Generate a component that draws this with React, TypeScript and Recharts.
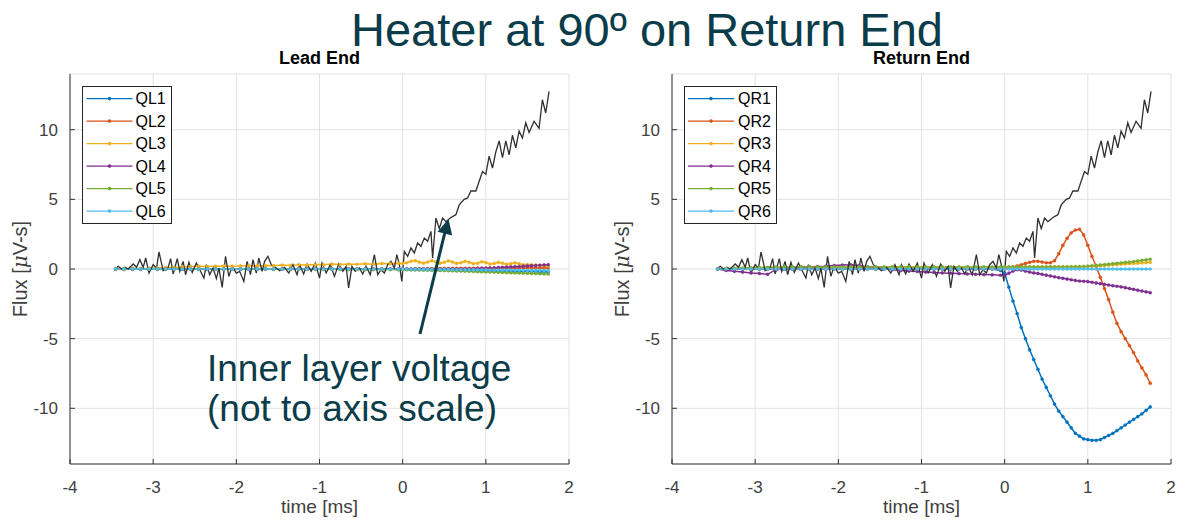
import { LineChart, Line, XAxis, YAxis, CartesianGrid, Legend } from 'recharts';

// shared time base of the coil signals [ms]
const timeQ = [
  -3.45, -3.35, -3.25, -3.15, -3.05, -2.95, -2.85, -2.75, -2.65, -2.55, -2.45, -2.35,
  -2.25, -2.15, -2.05, -1.95, -1.85, -1.75, -1.65, -1.55, -1.45, -1.35, -1.25, -1.15,
  -1.05, -0.95, -0.85, -0.75, -0.65, -0.55, -0.45, -0.35, -0.25, -0.15, -0.05,
  0, 0.05, 0.1, 0.15, 0.2, 0.25, 0.3, 0.35, 0.4, 0.45, 0.5, 0.55, 0.6, 0.65, 0.7, 0.75,
  0.8, 0.85, 0.9, 0.95, 1, 1.05, 1.1, 1.15, 1.2, 1.25, 1.3, 1.35, 1.4, 1.45, 1.5, 1.55,
  1.6, 1.65, 1.7, 1.75,
];

// Lead End
const ql1 = [
  0, 0, 0, 0, 0, 0, 0, 0, 0, 0, 0, 0, 0, 0, 0, 0, 0, 0, 0, 0, 0, 0, 0, 0, 0, 0, 0, 0, 0, 0, 0, 0, 0, 0, -0.02,
  -0.02, -0.03, -0.03, -0.04, -0.04, -0.05, -0.05, -0.06, -0.06, -0.07, -0.07, -0.08, -0.08, -0.09, -0.09, -0.1, -0.1, -0.11,
  -0.11, -0.12, -0.12, -0.13, -0.13, -0.14, -0.14, -0.15, -0.15, -0.16, -0.16, -0.17, -0.17, -0.18, -0.18, -0.19, -0.19, -0.2,
];
const ql2 = [
  0, 0, 0, 0, 0, 0, 0, 0, 0, 0, 0, 0, 0, 0, 0, 0, 0, 0, 0, 0, 0, 0, 0, 0, 0, 0, 0, 0, 0, 0, 0, 0, 0, 0, 0,
  0, 0.01, 0.01, 0.02, 0.02, 0.02, 0.03, 0.03, 0.03, 0.04, 0.04, 0.04, 0.04, 0.05, 0.05, 0.05, 0.05, 0.05,
  0.06, 0.06, 0.06, 0.06, 0.06, 0.07, 0.07, 0.07, 0.07, 0.07, 0.08, 0.08, 0.08, 0.08, 0.08, 0.08, 0.08, 0.08,
];
const ql3 = [
  0, -0.05, 0.05, 0.02, 0.05, 0.08, 0.1, 0.1, 0.15, 0.18, 0.2, 0.18, 0.2, 0.22, 0.2, 0.22, 0.25, 0.22,
  0.25, 0.24, 0.28, 0.26, 0.3, 0.28, 0.32, 0.3, 0.35, 0.32, 0.36, 0.34, 0.38, 0.35, 0.4, 0.38, 0.42,
  0.4, 0.45, 0.55, 0.6, 0.5, 0.42, 0.5, 0.6, 0.52, 0.42, 0.48, 0.58, 0.5, 0.4, 0.45, 0.55, 0.48, 0.38,
  0.42, 0.52, 0.46, 0.36, 0.4, 0.48, 0.42, 0.34, 0.38, 0.44, 0.38, 0.3, 0.32, 0.3, 0.28, 0.26, 0.24, 0.22,
];
const ql4 = [
  0, 0, 0, 0, 0, 0, 0, 0, 0, 0, 0, 0, 0, 0, 0, 0, 0, 0, 0, 0, 0, 0, 0, 0, 0, 0, 0, 0, 0, 0, 0, 0, 0, 0, 0,
  0, 0, 0, 0, 0, 0, 0, 0, 0, 0, 0, 0, 0, 0, 0, 0, 0, 0.01,
  0.02, 0.04, 0.05, 0.07, 0.08, 0.1, 0.12, 0.13, 0.15, 0.17, 0.18, 0.2, 0.22, 0.24, 0.25, 0.27, 0.29, 0.31,
];
const ql5 = [
  0, 0, 0, 0, 0, 0, 0, 0, 0, 0, 0, 0, 0, 0, 0, 0, 0, 0, 0, 0, 0, 0, 0, -0.02, -0.02, -0.02, -0.02, -0.03, -0.03, -0.03, -0.03, -0.04, -0.04, -0.04, -0.05,
  -0.05, -0.05, -0.06, -0.06, -0.07, -0.08, -0.08, -0.09, -0.1, -0.1, -0.11, -0.12, -0.13, -0.14, -0.15, -0.16, -0.17, -0.18,
  -0.19, -0.2, -0.21, -0.22, -0.23, -0.24, -0.25, -0.26, -0.27, -0.28, -0.29, -0.3, -0.31, -0.32, -0.33, -0.34, -0.35, -0.36,
];
const ql6 = [
  0, 0, 0, 0, 0, 0, 0, 0, 0, 0, 0, 0, 0, 0, 0, 0, 0, 0, 0, 0, 0, 0, 0, 0, 0, 0, 0, 0, 0, 0, 0, 0, 0, 0, 0,
  0, 0, 0, -0.01, -0.01, -0.01, -0.02, -0.02, -0.02, -0.03, -0.03, -0.03, -0.04, -0.04, -0.04, -0.05, -0.05, -0.05,
  -0.06, -0.06, -0.06, -0.07, -0.07, -0.07, -0.08, -0.08, -0.08, -0.09, -0.09, -0.09, -0.1, -0.1, -0.1, -0.1, -0.11, -0.11,
];

// Return End
const qr1 = [
  0, 0, 0, 0, 0, 0, 0, 0, 0, 0, 0, 0, 0, 0, 0, 0, 0, 0, 0, 0, 0, 0, 0, 0, 0, 0, 0, 0, 0, 0, 0, 0, 0, 0, -0.1,
  -0.3, -1.3, -2.3, -3.2, -4.2, -5.0, -5.8, -6.5, -7.2, -7.9, -8.5, -9.1, -9.7, -10.2, -10.6, -11.0, -11.4, -11.8,
  -12.0, -12.2, -12.25, -12.3, -12.3, -12.25, -12.1, -11.95, -11.8, -11.6, -11.4, -11.2, -11.0, -10.8, -10.6, -10.4, -10.15, -9.9,
];
const qr2 = [
  0, 0, 0, 0, 0, 0, 0, 0, 0, 0, 0, 0, 0, 0, 0, 0, 0, 0, 0, 0, 0, 0, 0, 0, 0, 0, 0, 0, 0, 0, 0, 0, 0, 0, 0,
  0, 0.05, 0.15, 0.22, 0.3, 0.4, 0.48, 0.55, 0.55, 0.5, 0.45, 0.45, 0.6, 1.1, 1.7, 2.2, 2.6, 2.8,
  2.85, 2.45, 1.7, 0.9, 0.2, -0.6, -1.4, -2.2, -3.1, -3.9, -4.5, -5.0, -5.5, -6.0, -6.6, -7.1, -7.6, -8.2,
];
const qr3 = [
  0, 0.02, 0.04, 0.05, 0.06, 0.08, 0.09, 0.1, 0.1, 0.11, 0.12, 0.12, 0.12, 0.12, 0.12, 0.12, 0.12, 0.12,
  0.12, 0.12, 0.12, 0.12, 0.12, 0.12, 0.12, 0.12, 0.12, 0.12, 0.12, 0.12, 0.12, 0.12, 0.12, 0.12, 0.12,
  0.12, 0.12, 0.13, 0.13, 0.13, 0.13, 0.14, 0.14, 0.14, 0.14, 0.14, 0.15, 0.15, 0.15, 0.15, 0.16, 0.16, 0.16,
  0.17, 0.17, 0.18, 0.2, 0.22, 0.24, 0.26, 0.28, 0.3, 0.32, 0.34, 0.36, 0.38, 0.4, 0.42, 0.44, 0.46, 0.48,
];
const qr4 = [
  0, -0.1, -0.17, -0.22, -0.28, -0.32, -0.38, -0.05, 0, 0.08, 0.12, 0.15, 0.18, 0.2, 0.25, 0.28, 0.3, 0.25,
  0.15, 0.1, 0.05, -0.05, -0.1, -0.15, -0.18, -0.22, -0.25, -0.28, -0.3, -0.33, -0.35, -0.38, -0.4, -0.42, -0.45,
  -0.45, -0.3, -0.15, -0.05, -0.08, -0.15, -0.22, -0.28, -0.32, -0.38, -0.44, -0.5, -0.56, -0.62, -0.67, -0.72, -0.77, -0.82,
  -0.86, -0.88, -0.9, -0.95, -1.0, -1.05, -1.1, -1.15, -1.2, -1.24, -1.28, -1.34, -1.4, -1.46, -1.52, -1.58, -1.64, -1.7,
];
const qr5 = [
  0, 0.02, 0.05, 0.07, 0.09, 0.11, 0.12, 0.13, 0.14, 0.15, 0.15, 0.15, 0.15, 0.15, 0.15, 0.15, 0.15, 0.15,
  0.15, 0.15, 0.15, 0.15, 0.15, 0.15, 0.15, 0.15, 0.15, 0.15, 0.15, 0.15, 0.15, 0.15, 0.15, 0.15, 0.15,
  0.15, 0.15, 0.15, 0.15, 0.15, 0.15, 0.15, 0.15, 0.15, 0.15, 0.15, 0.15, 0.15, 0.15, 0.16, 0.16, 0.16, 0.17,
  0.17, 0.18, 0.2, 0.23, 0.26, 0.29, 0.32, 0.35, 0.38, 0.41, 0.44, 0.47, 0.5, 0.54, 0.58, 0.62, 0.66, 0.7,
];
const qr6 = [
  0, 0, 0, 0, 0, 0, 0, 0, 0, 0, 0, 0, 0, 0, 0, 0, 0, 0, 0, 0, 0, 0, 0, 0, 0, 0, 0, 0, 0, 0, 0, 0, 0, 0, 0,
  0, 0, 0, 0, 0, 0, 0, 0, 0, 0, 0, 0, 0, 0, 0, 0, 0, 0, 0, 0, 0, 0, 0, 0, 0, 0, 0, 0, 0, 0, 0, 0, 0, 0, 0, 0,
];

// inner layer voltage (not to axis scale), same trace in both panels
const innerT = [
  -3.46, -3.42, -3.38, -3.34, -3.3, -3.24, -3.2, -3.16, -3.12, -3.09, -3.05, -3.0, -2.96, -2.93, -2.88,
  -2.82, -2.79, -2.76, -2.71, -2.68, -2.64, -2.61, -2.57, -2.53, -2.48, -2.44, -2.39, -2.36, -2.32, -2.28,
  -2.24, -2.21, -2.17, -2.13, -2.09, -2.05, -2.0, -1.96, -1.91, -1.87, -1.83, -1.8, -1.76, -1.73, -1.69,
  -1.66, -1.62, -1.58, -1.52, -1.48, -1.42, -1.37, -1.32, -1.27, -1.24, -1.19, -1.15, -1.1, -1.05, -1.0,
  -0.97, -0.92, -0.87, -0.82, -0.77, -0.72, -0.68, -0.65, -0.61, -0.57, -0.52, -0.48, -0.44, -0.39, -0.34,
  -0.3, -0.26, -0.22, -0.18, -0.14, -0.1, -0.07, -0.04, -0.01, 0.02, 0.06, 0.1, 0.14, 0.18, 0.22,
  0.26, 0.3, 0.34, 0.36, 0.4, 0.44, 0.48, 0.52, 0.58, 0.64, 0.68, 0.74, 0.78, 0.82, 0.88,
  0.92, 0.96, 1.0, 1.04, 1.08, 1.12, 1.16, 1.2, 1.24, 1.28, 1.32, 1.36, 1.4, 1.44, 1.48,
  1.52, 1.58, 1.64, 1.68, 1.72, 1.76,
];
const innerV = [
  0, 0.19, 0, 0.12, 0, 0.36, 0.12, 0.67, 0.12, 0.79, -0.29, 0.31, 0.07, 1.22, -0.12,
  0.12, 0.74, -0.36, 0.74, -0.17, 0.55, -0.41, 0.48, -0.24, 0.43, -0.05, -0.65, 0.31, -0.41, 0.07,
  -0.69, 0.07, -1.32, 0.91, -0.53, 0.19, -0.29, -0.17, -0.89, 0.55, -0.41, 0.67, -0.29, 0.79, -0.17,
  0.55, 0.91, 0.31, 0.07, -0.12, 0.12, -0.29, 0.31, -0.41, 0.31, -0.36, 0.36, -0.17, 0.43, -0.65,
  0.43, -0.29, 0.31, -0.53, 0.36, -0.17, 0.19, -1.36, 0.19, -0.17, 0.07, -0.36, 0.19, -0.41, 1.03,
  -0.41, -0.05, -0.29, 0.31, 0.55, 0.07, 1.03, 0.31, -0.89, 1.27, 0.91, 1.51, 1.15, 1.87, 1.63,
  2.22, 1.99, 2.7, 0.8, 3.66, 2.9, 3.66, 3.4, 3.7, 3.9, 4.6, 5.0, 5.1, 5.6, 5.6,
  6.3, 7.0, 6.8, 8.1, 7.25, 8.4, 9.2, 8.0, 9.2, 8.2, 9.6, 8.7, 9.9, 9.4, 10.5,
  9.8, 10.6, 10.1, 12.15, 11.2, 12.75,
];

const leadNames = ['QL1', 'QL2', 'QL3', 'QL4', 'QL5', 'QL6'];
const returnNames = ['QR1', 'QR2', 'QR3', 'QR4', 'QR5', 'QR6'];
const colors = ['#0072BD', '#D95319', '#EDB120', '#7E2F8E', '#77AC30', '#4DBEEE'];
const xTicks = [-4, -3, -2, -1, 0, 1, 2];
const yTicks = [-10, -5, 0, 5, 10];

const FONT = '"Liberation Sans", Arial, Helvetica, sans-serif';
const INK = '#0b3c49';
const AXIS = '#333333';
const TICK_TXT = '#404040';

const buildRows = (names: string[], series: number[][]) =>
  timeQ.map((t, i) => {
    const row: Record<string, number> = { t };
    names.forEach((n, k) => (row[n] = series[k][i]));
    return row;
  });

const innerRows = innerT.map((t, i) => ({ t, v: innerV[i] }));

function LegendBox({ names, width, lineX, textX }) {
  return (
    <svg width={width} height={138} style={{ display: 'block' }}>
      <rect x={0.5} y={0.5} width={width - 1} height={137} fill="#fff" stroke="#262626" />
      {names.map((n, i) => {
        const cy = 12.6 + i * 22.5;
        return (
          <g key={n}>
            <line x1={lineX} x2={lineX + 46} y1={cy} y2={cy} stroke={colors[i]} strokeWidth={1.2} />
            <circle cx={lineX + 23} cy={cy} r={1.8} fill={colors[i]} />
            <text x={textX} y={cy + 5.8} fontSize={16} fill="#000" fontFamily={FONT}>
              {n}
            </text>
          </g>
        );
      })}
    </svg>
  );
}

function FluxLabel({ viewBox, off }: any) {
  const cx = viewBox.x + off;
  const cy = viewBox.y + viewBox.height / 2;
  return (
    <text
      x={cx}
      y={cy}
      transform={`rotate(-90 ${cx} ${cy})`}
      textAnchor="middle"
      fontSize={20}
      fill={TICK_TXT}
      fontFamily={FONT}
    >
      Flux [<tspan fontStyle="italic" fontFamily="DejaVu Serif">μ</tspan>V-s]
    </text>
  );
}

function Panel({ left, names, series, yWidth, rightMargin, labelOff, legendLeft, legendWidth, lineX, textX }) {
  const rows = buildRows(names, series);
  return (
    <div style={{ position: 'absolute', left, top: 0 }}>
      <LineChart
        width={590}
        height={520}
        data={rows}
        margin={{ top: 74, right: rightMargin, bottom: 0, left: 0 }}
        style={{ fontFamily: FONT }}
      >
        <CartesianGrid stroke="#e2e2e2" />
        <XAxis
          dataKey="t"
          type="number"
          domain={[-4, 2]}
          ticks={xTicks}
          interval={0}
          allowDataOverflow
          height={56}
          tickSize={-5}
          tickMargin={22}
          stroke={AXIS}
          tick={{ fill: TICK_TXT, fontSize: 17 }}
          label={{ value: 'time [ms]', position: 'insideBottom', offset: 7, fontSize: 19, fill: TICK_TXT }}
        />
        <XAxis
          xAxisId="top"
          orientation="top"
          type="number"
          domain={[-4, 2]}
          ticks={xTicks}
          allowDataOverflow
          height={0}
          tickSize={-5}
          tick={false}
          stroke={AXIS}
        />
        <YAxis
          type="number"
          domain={[-14, 14]}
          ticks={yTicks}
          interval={0}
          allowDataOverflow
          width={yWidth}
          tickSize={-5}
          tickMargin={17}
          stroke={AXIS}
          tick={{ fill: TICK_TXT, fontSize: 17 }}
          label={<FluxLabel off={labelOff} />}
        />
        <YAxis
          yAxisId="right"
          orientation="right"
          type="number"
          domain={[-14, 14]}
          ticks={yTicks}
          allowDataOverflow
          width={0}
          tickSize={-5}
          tick={false}
          stroke={AXIS}
        />
        <Legend
          verticalAlign="middle"
          layout="horizontal"
          wrapperStyle={{ position: 'absolute', left: legendLeft, top: 86, width: legendWidth, height: 138 }}
          content={() => <LegendBox names={names} width={legendWidth} lineX={lineX} textX={textX} />}
        />
        {names.map((n, i) => (
          <Line
            key={n}
            type="linear"
            dataKey={n}
            stroke={colors[i]}
            strokeWidth={1.5}
            dot={{ r: 1.6, fill: colors[i], stroke: colors[i], strokeWidth: 0.3 }}
            isAnimationActive={false}
          />
        ))}
        <Line
          data={innerRows}
          type="linear"
          dataKey="v"
          stroke="#303030"
          strokeWidth={1.3}
          dot={false}
          isAnimationActive={false}
        />
      </LineChart>
    </div>
  );
}

export default function App() {
  return (
    <div style={{ position: 'absolute', left: 0, top: 0, width: 1178, height: 520, background: '#fff', fontFamily: FONT }}>
      <Panel
        left={0}
        names={leadNames}
        series={[ql1, ql2, ql3, ql4, ql5, ql6]}
        yWidth={70}
        rightMargin={21}
        labelOff={27}
        legendLeft={82}
        legendWidth={90}
        lineX={4.5}
        textX={53.5}
      />
      <Panel
        left={600}
        names={returnNames}
        series={[qr1, qr2, qr3, qr4, qr5, qr6]}
        yWidth={72}
        rightMargin={19}
        labelOff={29}
        legendLeft={84}
        legendWidth={93}
        lineX={4}
        textX={54}
      />
      <svg
        width={1178}
        height={520}
        style={{ position: 'absolute', left: 0, top: 0, pointerEvents: 'none' }}
        fontFamily={FONT}
      >
        <text x={647} y={46} textAnchor="middle" fontSize={47} fill={INK}>
          Heater at 90º on Return End
        </text>
        <text x={319.5} y={64} textAnchor="middle" fontSize={18} fontWeight="bold" fill="#000">
          Lead End
        </text>
        <text x={921.5} y={64} textAnchor="middle" fontSize={18} fontWeight="bold" fill="#000">
          Return End
        </text>
        <line x1={420} y1={334} x2={445} y2={232} stroke={INK} strokeWidth={3} />
        <polygon points="448.5,219 452.2,235.4 437.6,231.8" fill={INK} />
        <text x={207} y={381} fontSize={37} fill={INK}>
          Inner layer voltage
        </text>
        <text x={207} y={421} fontSize={37} fill={INK}>
          (not to axis scale)
        </text>
      </svg>
    </div>
  );
}
